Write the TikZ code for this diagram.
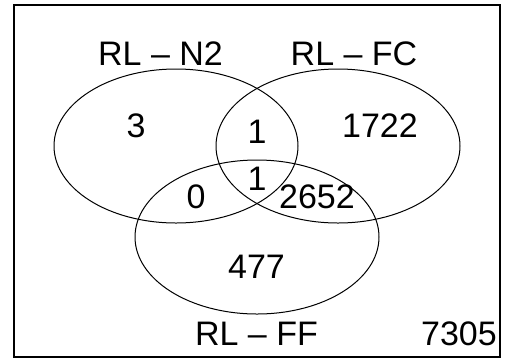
\documentclass[tikz,border=0pt]{standalone}
\usepackage{fontspec}
\setmainfont{Liberation Sans}
\begin{document}
\begin{tikzpicture}[x=1pt,y=-1pt,
  lbl/.style={anchor=base,inner sep=0pt,font=\fontsize{34}{40}\selectfont},
  setline/.style={draw=black,line width=1pt}]
\useasboundingbox (0,0) rectangle (506,360);
\draw[line width=1.4pt] (14,5) rectangle (500,357);
\draw[setline] (176,146) ellipse [x radius=122pt, y radius=77pt];
\draw[setline] (338,146) ellipse [x radius=122pt, y radius=77pt];
\draw[setline] (257,237) ellipse [x radius=122pt, y radius=77pt];
\node[lbl] (tN) at (160.5,65) {RL – N2};
\node[lbl] (tFC) at (354,65) {RL – FC};
\node[lbl] (tFF) at (256.5,345) {RL – FF};
\node[lbl,anchor=base east] (tot) at (497,345) {7305};
\node[lbl] (a) at (136,137) {3};
\node[lbl] (b) at (380,137) {1722};
\node[lbl] (ab) at (257,143) {1};
\node[lbl] (abc) at (257,190) {1};
\node[lbl] (ac) at (196,208) {0};
\node[lbl] (bc) at (317,208) {2652};
\node[lbl] (c) at (256.5,278) {477};
\end{tikzpicture}
\end{document}
